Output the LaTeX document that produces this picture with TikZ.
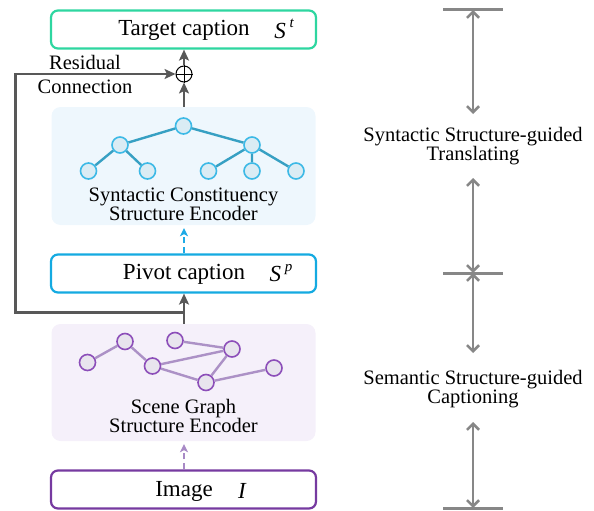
\documentclass[tikz,border=0pt]{standalone}
\usepackage{fontspec}
\setmainfont{Liberation Serif}
\usetikzlibrary{arrows.meta}

\definecolor{tgtgreen}{RGB}{46,214,160}
\definecolor{pivcyan}{RGB}{20,170,225}
\definecolor{imgpurple}{RGB}{118,58,160}
\definecolor{synfill}{RGB}{238,247,253}
\definecolor{scnfill}{RGB}{245,240,250}
\definecolor{treefill}{RGB}{218,236,244}
\definecolor{treedraw}{RGB}{60,185,230}
\definecolor{treeedge}{RGB}{55,160,195}
\definecolor{sgfill}{RGB}{232,228,238}
\definecolor{sgdraw}{RGB}{140,78,185}
\definecolor{sgedge}{RGB}{172,145,198}
\definecolor{flowgray}{RGB}{88,88,88}
\definecolor{spangray}{RGB}{135,135,135}
\definecolor{dashcyan}{RGB}{30,170,230}
\definecolor{dashpurple}{RGB}{168,138,198}

\tikzset{
  capbox/.style={draw, line width=2.2pt, rounded corners=7pt,
    minimum width=265pt, minimum height=38pt, inner sep=0pt, fill=white},
  encbox/.style={fill=#1, rounded corners=9pt, minimum width=264pt,
    inner sep=0pt},
  boxtext/.style={font=\fontsize{23}{24}\selectfont, inner sep=0pt},
  lbl/.style={font=\fontsize{20.5}{19}\selectfont, align=center, inner sep=0pt},
  tnode/.style={circle, draw=treedraw, fill=treefill, line width=1.6pt,
    minimum size=16pt, inner sep=0pt},
  snode/.style={circle, draw=sgdraw, fill=sgfill, line width=1.6pt,
    minimum size=16pt, inner sep=0pt},
  tedge/.style={draw=treeedge, line width=2.4pt},
  sedge/.style={draw=sgedge, line width=2.4pt},
  flow/.style={draw=flowgray, line width=2.6pt,
    -{Stealth[length=11pt,width=10pt,inset=2.5pt]}},
  dflow/.style={line width=2.2pt, dash pattern=on 6pt off 4pt,
    -{Stealth[length=8pt,width=8pt,inset=2pt]}},
  span/.style={draw=spangray, line width=2.6pt,
    {Straight Barb[length=6pt,width=12pt]}-{Straight Barb[length=6pt,width=12pt]}},
  tick/.style={draw=spangray, line width=3pt},
}

\begin{document}
\begin{tikzpicture}[x=1pt, y=-1pt]
\useasboundingbox (0,0) rectangle (594,511);

% encoder panels
\node[encbox=synfill, minimum height=118pt] (syn) at (183.5,166) {};
\node[encbox=scnfill, minimum height=117pt] (scn) at (183.5,382.5) {};

% caption boxes
\node[capbox, draw=tgtgreen] (tgt) at (183.5,29.5) {};
\node[capbox, draw=pivcyan] (piv) at (183.5,273.5) {};
\node[capbox, draw=imgpurple] (img) at (183.5,489.5) {};

\node[boxtext] (tgttxt) at (184,30) {Target caption};
\node[boxtext] (tgtsym) at (284,29) {\itshape S\,\raisebox{0.45em}{\fontsize{15}{15}\selectfont t}};
\node[boxtext] (pivtxt) at (184,274) {Pivot caption};
\node[boxtext] (pivsym) at (281,273) {\itshape S\,\raisebox{0.45em}{\fontsize{15}{15}\selectfont p}};
\node[boxtext] (imgtxt) at (184,491) {Image};
\node[boxtext] (imgsym) at (242,491) {\itshape I};

% constituency tree
\node[tnode] (r)  at (183.5,126) {};
\node[tnode] (a)  at (120,145) {};
\node[tnode] (b)  at (252,145) {};
\node[tnode] (l1) at (88.5,171) {};
\node[tnode] (l2) at (147.5,171) {};
\node[tnode] (l3) at (208.5,171) {};
\node[tnode] (l4) at (252,171) {};
\node[tnode] (l5) at (296,171) {};
\path[tedge] (r) -- (a) (r) -- (b) (a) -- (l1) (a) -- (l2)
  (b) -- (l3) (b) -- (l4) (b) -- (l5);
\node[lbl] (syntxt) at (183.5,204) {Syntactic Constituency\\Structure Encoder};

% scene graph
\node[snode] (s1) at (87.5,362.5) {};
\node[snode] (s2) at (125,341.5) {};
\node[snode] (s3) at (175,340.5) {};
\node[snode] (s4) at (232,349) {};
\node[snode] (s5) at (152.5,366) {};
\node[snode] (s6) at (206,382.5) {};
\node[snode] (s7) at (274,368) {};
\path[sedge] (s1) -- (s2) (s2) -- (s5) (s3) -- (s4) (s5) -- (s4)
  (s5) -- (s6) (s6) -- (s4) (s6) -- (s7);
\node[lbl] (scntxt) at (183.5,416) {Scene Graph\\Structure Encoder};

% main flow
\node[circle, draw, line width=1pt, minimum size=16pt, inner sep=0pt] (plus) at (184,74) {};
\draw[line width=1pt] (plus.north) -- (plus.south) (plus.west) -- (plus.east);
\draw[flow] (plus.north) -- (tgt.south -| plus.north);
\draw[flow] (syn.north -| plus.south) -- (plus.south);
\draw[dflow, draw=dashcyan] (piv.north -| plus) -- ([yshift=-3pt]syn.south -| plus);
\draw[dflow, draw=dashpurple] (img.north -| plus) -- ([yshift=-3pt]scn.south -| plus);
\coordinate (split) at (184,312.5);
\draw[flow] (scn.north -| plus) -- (piv.south -| plus);
\draw[flow] (split) -- (15.5,312.5) -- (15.5,74) -- (plus.west);
\node[lbl, anchor=center] (res) at (85,62) {Residual};
\node[lbl, anchor=center] (con) at (85,87) {Connection};

% stage spans
\coordinate (t0) at (473,10);
\coordinate (t1) at (473,273);
\coordinate (t2) at (473,508);
\draw[tick] (443,10) -- (503,10);
\draw[tick] (443,273) -- (503,273);
\draw[tick] (443,508) -- (503,508);
\node[lbl] (st1) at (473,146) {Syntactic Structure-guided\\Translating};
\node[lbl] (st2) at (473,389) {Semantic Structure-guided\\Captioning};
\coordinate (a1) at (473,114);
\coordinate (a2) at (473,178);
\coordinate (a3) at (473,353);
\coordinate (a4) at (473,422);
\draw[span] (t0) -- (a1);
\draw[span] (a2) -- (t1);
\draw[span] (t1) -- (a3);
\draw[span] (a4) -- (t2);
\end{tikzpicture}
\end{document}
